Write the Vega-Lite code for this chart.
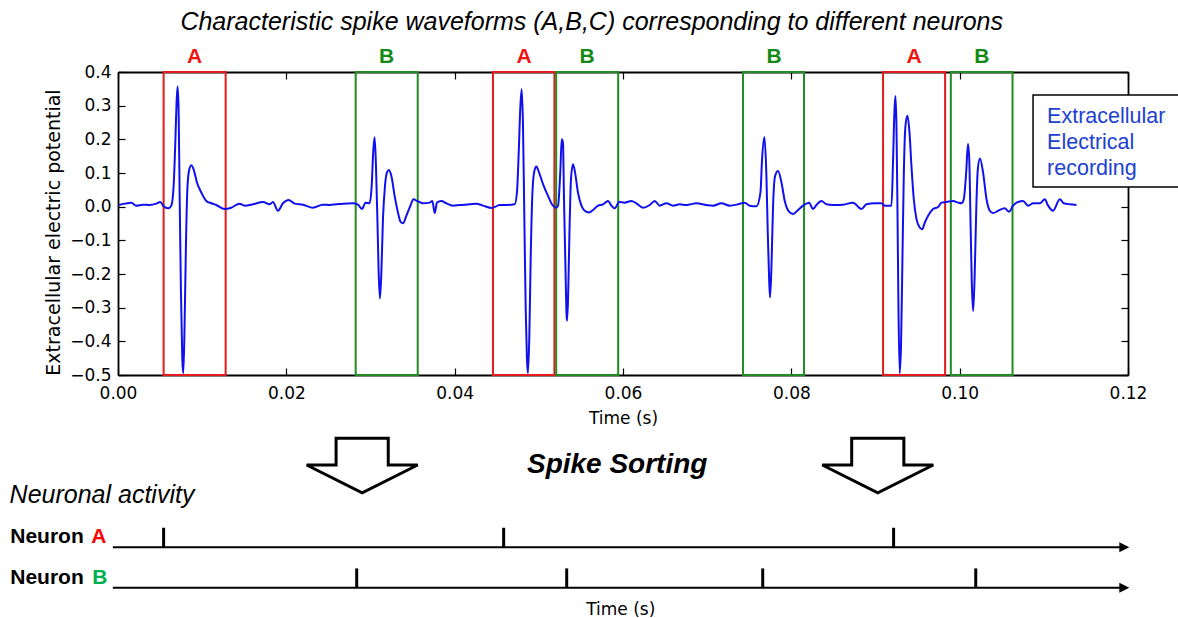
{
  "$schema": "https://vega.github.io/schema/vega-lite/v6.json",
  "width": 1010,
  "height": 303,
  "autosize": "none",
  "padding": {"left": 118, "top": 72, "right": 50, "bottom": 243},
  "background": "white",
  "config": {
    "view": {"stroke": null},
    "axis": {
      "grid": false,
      "domainColor": "black",
      "domainWidth": 1.8,
      "tickColor": "black",
      "tickSize": -7,
      "tickWidth": 1.2,
      "labelFont": "DejaVu Sans",
      "labelFontSize": 17,
      "labelColor": "black",
      "labelFlush": false,
      "labelOverlap": false,
      "titleFont": "DejaVu Sans",
      "titleFontSize": 17,
      "titleFontWeight": "normal",
      "titleColor": "black"
    }
  },
  "data": {"values": [{}]},
  "datasets": {
    "wave": [
      {"t":0.00011,"v":0.005},{"t":0.00078,"v":0.009},{"t":0.00158,"v":0.012},{"t":0.00217,"v":0.003},{"t":0.00296,"v":0.006},{"t":0.00376,"v":0.005},{"t":0.00455,"v":0.009},{"t":0.00503,"v":0.014},{"t":0.00542,"v":0.001},{"t":0.00593,"v":-0.005},{"t":0.00633,"v":0.003},{"t":0.00661,"v":0.062},{"t":0.00681,"v":0.191},{"t":0.00696,"v":0.31},{"t":0.00708,"v":0.357},{"t":0.0072,"v":0.29},{"t":0.00732,"v":0.042},{"t":0.00748,"v":-0.255},{"t":0.00764,"v":-0.453},{"t":0.00776,"v":-0.495},{"t":0.00791,"v":-0.354},{"t":0.00807,"v":-0.116},{"t":0.00824,"v":0.052},{"t":0.00843,"v":0.106},{"t":0.00871,"v":0.123},{"t":0.00898,"v":0.111},{"t":0.00938,"v":0.072},{"t":0.0099,"v":0.042},{"t":0.01049,"v":0.017},{"t":0.01109,"v":0.01},{"t":0.01168,"v":0.005},{"t":0.01267,"v":-0.007},{"t":0.01346,"v":-0.003},{"t":0.01445,"v":0.009},{"t":0.01504,"v":0.003},{"t":0.01603,"v":0.007},{"t":0.01722,"v":0.014},{"t":0.01802,"v":0.007},{"t":0.01841,"v":0.014},{"t":0.019,"v":-0.012},{"t":0.0196,"v":0.01},{"t":0.02027,"v":0.02},{"t":0.02099,"v":0.009},{"t":0.02197,"v":0.006},{"t":0.02316,"v":-0.003},{"t":0.02435,"v":0.006},{"t":0.02515,"v":0.005},{"t":0.02594,"v":0.007},{"t":0.02673,"v":0.009},{"t":0.02792,"v":0.01},{"t":0.02851,"v":0.006},{"t":0.02898,"v":-0.007},{"t":0.02942,"v":0.012},{"t":0.0299,"v":0.01},{"t":0.03014,"v":0.062},{"t":0.03034,"v":0.171},{"t":0.03049,"v":0.206},{"t":0.03065,"v":0.121},{"t":0.03082,"v":-0.037},{"t":0.03097,"v":-0.196},{"t":0.03112,"v":-0.273},{"t":0.03129,"v":-0.196},{"t":0.03148,"v":-0.037},{"t":0.03172,"v":0.062},{"t":0.03196,"v":0.102},{"t":0.03219,"v":0.109},{"t":0.03248,"v":0.091},{"t":0.03287,"v":0.032},{"t":0.03326,"v":-0.017},{"t":0.03358,"v":-0.045},{"t":0.03386,"v":-0.049},{"t":0.03426,"v":-0.027},{"t":0.03465,"v":-0.003},{"t":0.03513,"v":0.022},{"t":0.03552,"v":0.017},{"t":0.03623,"v":0.01},{"t":0.03703,"v":0.012},{"t":0.03735,"v":0.017},{"t":0.03763,"v":-0.019},{"t":0.0379,"v":0.012},{"t":0.03842,"v":0.017},{"t":0.03902,"v":0.01},{"t":0.0398,"v":0.003},{"t":0.0406,"v":0.005},{"t":0.04178,"v":0.007},{"t":0.04258,"v":0.009},{"t":0.04336,"v":0.003},{"t":0.04443,"v":-0.004},{"t":0.04535,"v":0.005},{"t":0.04615,"v":0.005},{"t":0.04713,"v":0.007},{"t":0.0474,"v":0.042},{"t":0.04761,"v":0.161},{"t":0.04781,"v":0.3},{"t":0.04796,"v":0.349},{"t":0.04812,"v":0.24},{"t":0.04828,"v":-0.037},{"t":0.04844,"v":-0.305},{"t":0.04859,"v":-0.453},{"t":0.04871,"v":-0.495},{"t":0.04888,"v":-0.374},{"t":0.04903,"v":-0.156},{"t":0.04924,"v":0.042},{"t":0.04947,"v":0.106},{"t":0.04971,"v":0.119},{"t":0.05002,"v":0.102},{"t":0.0505,"v":0.067},{"t":0.05109,"v":0.032},{"t":0.05168,"v":0.003},{"t":0.052,"v":-0.003},{"t":0.05228,"v":0.003},{"t":0.05256,"v":0.109},{"t":0.05272,"v":0.2},{"t":0.05287,"v":0.19},{"t":0.05299,"v":0.022},{"t":0.05316,"v":-0.176},{"t":0.05328,"v":-0.314},{"t":0.05335,"v":-0.339},{"t":0.05347,"v":-0.275},{"t":0.05363,"v":-0.087},{"t":0.05382,"v":0.082},{"t":0.05406,"v":0.126},{"t":0.0543,"v":0.102},{"t":0.05465,"v":0.042},{"t":0.05506,"v":0.003},{"t":0.05545,"v":-0.012},{"t":0.05596,"v":-0.017},{"t":0.05644,"v":-0.01},{"t":0.05703,"v":0.003},{"t":0.05763,"v":0.007},{"t":0.05822,"v":0.017},{"t":0.05862,"v":0.003},{"t":0.05902,"v":-0.005},{"t":0.05953,"v":0.014},{"t":0.0602,"v":0.012},{"t":0.061,"v":0.017},{"t":0.06159,"v":0.01},{"t":0.06238,"v":-0.003},{"t":0.06318,"v":0.005},{"t":0.06377,"v":0.017},{"t":0.06436,"v":0.003},{"t":0.06516,"v":0.01},{"t":0.06594,"v":0.003},{"t":0.06674,"v":0.007},{"t":0.06754,"v":0.005},{"t":0.06873,"v":0.01},{"t":0.06991,"v":0.005},{"t":0.0707,"v":0.003},{"t":0.0717,"v":0.01},{"t":0.07268,"v":0.003},{"t":0.07367,"v":0.007},{"t":0.07446,"v":0.012},{"t":0.07506,"v":0.003},{"t":0.07585,"v":0.001},{"t":0.07633,"v":0.042},{"t":0.07652,"v":0.14},{"t":0.0768,"v":0.207},{"t":0.07704,"v":0.091},{"t":0.0772,"v":-0.077},{"t":0.07735,"v":-0.206},{"t":0.07747,"v":-0.27},{"t":0.07764,"v":-0.176},{"t":0.07783,"v":0.003},{"t":0.07807,"v":0.091},{"t":0.07842,"v":0.106},{"t":0.07883,"v":0.072},{"t":0.07922,"v":0.017},{"t":0.07973,"v":-0.015},{"t":0.0802,"v":-0.022},{"t":0.0808,"v":-0.01},{"t":0.08139,"v":0.003},{"t":0.08211,"v":0.012},{"t":0.08258,"v":-0.007},{"t":0.08298,"v":0.005},{"t":0.08358,"v":0.017},{"t":0.08417,"v":0.007},{"t":0.08496,"v":0.005},{"t":0.08615,"v":0.006},{"t":0.08734,"v":0.012},{"t":0.08833,"v":-0.007},{"t":0.08893,"v":0.007},{"t":0.08991,"v":0.01},{"t":0.09071,"v":0.01},{"t":0.0911,"v":0.003},{"t":0.0919,"v":0.003},{"t":0.09209,"v":0.141},{"t":0.09226,"v":0.29},{"t":0.09237,"v":0.329},{"t":0.09249,"v":0.24},{"t":0.09261,"v":-0.007},{"t":0.09273,"v":-0.305},{"t":0.09288,"v":-0.495},{"t":0.09304,"v":-0.404},{"t":0.0932,"v":-0.156},{"t":0.09336,"v":0.091},{"t":0.09356,"v":0.24},{"t":0.0938,"v":0.27},{"t":0.09404,"v":0.22},{"t":0.09427,"v":0.121},{"t":0.09455,"v":0.022},{"t":0.09487,"v":-0.037},{"t":0.09526,"v":-0.062},{"t":0.09554,"v":-0.067},{"t":0.09586,"v":-0.047},{"t":0.09625,"v":-0.027},{"t":0.09684,"v":-0.007},{"t":0.09744,"v":-0.001},{"t":0.09784,"v":0.012},{"t":0.09843,"v":0.014},{"t":0.09922,"v":0.017},{"t":0.09981,"v":0.012},{"t":0.10022,"v":0.01},{"t":0.10049,"v":0.022},{"t":0.10077,"v":0.1},{"t":0.10099,"v":0.186},{"t":0.10114,"v":0.14},{"t":0.1013,"v":-0.057},{"t":0.10144,"v":-0.225},{"t":0.1016,"v":-0.31},{"t":0.10178,"v":-0.206},{"t":0.10198,"v":0.0},{"t":0.10215,"v":0.109},{"t":0.10241,"v":0.143},{"t":0.10278,"v":0.102},{"t":0.10319,"v":0.022},{"t":0.10358,"v":-0.012},{"t":0.10397,"v":-0.019},{"t":0.10457,"v":-0.012},{"t":0.10536,"v":-0.005},{"t":0.10587,"v":-0.015},{"t":0.10635,"v":0.003},{"t":0.10694,"v":0.014},{"t":0.10754,"v":0.017},{"t":0.10813,"v":0.003},{"t":0.10873,"v":0.01},{"t":0.10952,"v":0.01},{"t":0.11012,"v":0.022},{"t":0.11051,"v":0.003},{"t":0.1111,"v":-0.012},{"t":0.1119,"v":0.022},{"t":0.11237,"v":0.01},{"t":0.11309,"v":0.007},{"t":0.11388,"v":0.005}
    ],
    "boxes": [
      {"neuron":"A","start":0.00542,"end":0.01279},
      {"neuron":"B","start":0.02824,"end":0.03561},
      {"neuron":"A","start":0.04455,"end":0.05185},
      {"neuron":"B","start":0.05206,"end":0.05943},
      {"neuron":"B","start":0.07426,"end":0.08151},
      {"neuron":"A","start":0.0909,"end":0.09827},
      {"neuron":"B","start":0.09895,"end":0.10628}
    ],
    "spikes": [
      {"neuron":"A","t":0.00542},
      {"neuron":"A","t":0.04582},
      {"neuron":"A","t":0.09215},
      {"neuron":"B","t":0.02836},
      {"neuron":"B","t":0.05331},
      {"neuron":"B","t":0.0766},
      {"neuron":"B","t":0.10191}
    ],
    "sortArrows": [
      {"t":0.02901},
      {"t":0.09027}
    ]
  },
  "resolve": {"axis": {"x": "independent", "y": "independent"}},
  "layer": [
    {
      "data": {"name": "boxes"},
      "mark": {"type": "rect", "fill": "transparent", "strokeWidth": 2},
      "encoding": {
        "x": {"field": "start", "type": "quantitative", "scale": {"domain": [0, 0.12], "nice": false, "zero": false},
              "axis": {"orient": "top", "labels": false, "title": null, "values": [0, 0.02, 0.04, 0.06, 0.08, 0.1, 0.12]}},
        "x2": {"field": "end"},
        "y": {"datum": -0.5, "type": "quantitative", "scale": {"domain": [-0.5, 0.4], "nice": false, "zero": false},
              "axis": {"orient": "right", "labels": false, "title": null, "values": [-0.5, -0.4, -0.3, -0.2, -0.1, 0, 0.1, 0.2, 0.3, 0.4]}},
        "y2": {"datum": 0.4},
        "stroke": {"field": "neuron", "type": "nominal", "scale": {"domain": ["A", "B"], "range": ["#e41a1c", "#228b22"]}, "legend": null}
      }
    },
    {
      "data": {"name": "wave"},
      "mark": {"type": "line", "color": "#1010ee", "strokeWidth": 2, "interpolate": "monotone"},
      "encoding": {
        "x": {"field": "t", "type": "quantitative", "scale": {"domain": [0, 0.12], "nice": false, "zero": false},
              "axis": {"orient": "bottom", "title": "Time (s)", "values": [0, 0.02, 0.04, 0.06, 0.08, 0.1, 0.12], "format": ".2f", "labelPadding": 17, "titlePadding": 9}},
        "y": {"field": "v", "type": "quantitative", "scale": {"domain": [-0.5, 0.4], "nice": false, "zero": false},
              "axis": {"orient": "left", "title": "Extracellular electric potential", "values": [-0.5, -0.4, -0.3, -0.2, -0.1, 0, 0.1, 0.2, 0.3, 0.4], "format": ".1f", "labelPadding": 14, "titleFontSize": 19, "titleX": -65, "titleY": 160, "titleAngle": 270, "titleAlign": "center", "titleBaseline": "middle"}}
      }
    },
    {
      "data": {"name": "boxes"},
      "mark": {"type": "text", "font": "Liberation Sans", "fontSize": 21, "fontWeight": "bold", "align": "center", "baseline": "alphabetic", "dx": 31},
      "encoding": {
        "x": {"field": "start", "type": "quantitative", "scale": {"domain": [0, 0.12], "nice": false, "zero": false}, "axis": null},
        "y": {"datum": 0.4261, "type": "quantitative", "scale": {"domain": [-0.5, 0.4], "nice": false, "zero": false}, "axis": null},
        "text": {"field": "neuron"},
        "color": {"field": "neuron", "type": "nominal", "scale": {"domain": ["A", "B"], "range": ["#f01515", "#168a16"]}, "legend": null}
      }
    },
    {
      "mark": {"type": "rect", "fill": "white", "stroke": "black", "strokeWidth": 1.5},
      "encoding": {
        "x": {"datum": 0.10872, "type": "quantitative", "scale": {"domain": [0, 0.12], "nice": false, "zero": false}, "axis": null},
        "x2": {"datum": 0.1265},
        "y": {"datum": 0.0582, "type": "quantitative", "scale": {"domain": [-0.5, 0.4], "nice": false, "zero": false}, "axis": null},
        "y2": {"datum": 0.332}
      }
    },
    {
      "mark": {"type": "text", "text": "Extracellular", "font": "Liberation Sans", "fontSize": 21.5, "color": "#2040d0", "align": "left", "baseline": "alphabetic"},
      "encoding": {
        "x": {"datum": 0.11039, "type": "quantitative", "scale": {"domain": [0, 0.12], "nice": false, "zero": false}, "axis": null},
        "y": {"datum": 0.2481, "type": "quantitative", "scale": {"domain": [-0.5, 0.4], "nice": false, "zero": false}, "axis": null}
      }
    },
    {
      "mark": {"type": "text", "text": "Electrical", "font": "Liberation Sans", "fontSize": 21.5, "color": "#2040d0", "align": "left", "baseline": "alphabetic"},
      "encoding": {
        "x": {"datum": 0.11039, "type": "quantitative", "scale": {"domain": [0, 0.12], "nice": false, "zero": false}, "axis": null},
        "y": {"datum": 0.1709, "type": "quantitative", "scale": {"domain": [-0.5, 0.4], "nice": false, "zero": false}, "axis": null}
      }
    },
    {
      "mark": {"type": "text", "text": "recording", "font": "Liberation Sans", "fontSize": 21.5, "color": "#2040d0", "align": "left", "baseline": "alphabetic"},
      "encoding": {
        "x": {"datum": 0.11039, "type": "quantitative", "scale": {"domain": [0, 0.12], "nice": false, "zero": false}, "axis": null},
        "y": {"datum": 0.0947, "type": "quantitative", "scale": {"domain": [-0.5, 0.4], "nice": false, "zero": false}, "axis": null}
      }
    },
    {
      "mark": {"type": "text", "text": "Characteristic spike waveforms (A,B,C) corresponding to different neurons", "font": "Liberation Sans", "fontSize": 25, "fontStyle": "italic", "color": "black", "align": "center", "baseline": "alphabetic"},
      "encoding": {
        "x": {"datum": 0.05628, "type": "quantitative", "scale": {"domain": [0, 0.12], "nice": false, "zero": false}, "axis": null},
        "y": {"datum": 0.5249, "type": "quantitative", "scale": {"domain": [-0.5, 0.4], "nice": false, "zero": false}, "axis": null}
      }
    },
    {
      "data": {"name": "sortArrows"},
      "mark": {"type": "point", "shape": "M-0.47,-0.49L0.47,-0.49L0.47,-0.01L1,-0.01L0,0.49L-1,-0.01L-0.47,-0.01Z", "size": 12321, "filled": true, "fill": "white", "stroke": "black", "strokeWidth": 3, "opacity": 1},
      "encoding": {
        "x": {"field": "t", "type": "quantitative", "scale": {"domain": [0, 0.12], "nice": false, "zero": false}, "axis": null},
        "y": {"datum": -0.7689, "type": "quantitative", "scale": {"domain": [-0.5, 0.4], "nice": false, "zero": false}, "axis": null}
      }
    },
    {
      "mark": {"type": "text", "text": "Spike Sorting", "font": "Liberation Sans", "fontSize": 28, "fontStyle": "italic", "fontWeight": "bold", "color": "black", "align": "center", "baseline": "alphabetic"},
      "encoding": {
        "x": {"datum": 0.05931, "type": "quantitative", "scale": {"domain": [0, 0.12], "nice": false, "zero": false}, "axis": null},
        "y": {"datum": -0.7905, "type": "quantitative", "scale": {"domain": [-0.5, 0.4], "nice": false, "zero": false}, "axis": null}
      }
    },
    {
      "mark": {"type": "text", "text": "Neuronal activity", "font": "Liberation Sans", "fontSize": 25, "fontStyle": "italic", "color": "black", "align": "left", "baseline": "alphabetic"},
      "encoding": {
        "x": {"datum": -0.01288, "type": "quantitative", "scale": {"domain": [0, 0.12], "nice": false, "zero": false}, "axis": null},
        "y": {"datum": -0.8816, "type": "quantitative", "scale": {"domain": [-0.5, 0.4], "nice": false, "zero": false}, "axis": null}
      }
    },
    {
      "mark": {"type": "text", "text": "Neuron", "font": "Liberation Sans", "fontSize": 21, "fontWeight": "bold", "color": "black", "align": "left", "baseline": "alphabetic"},
      "encoding": {
        "x": {"datum": -0.0128, "type": "quantitative", "scale": {"domain": [0, 0.12], "nice": false, "zero": false}, "axis": null},
        "y": {"datum": -1.0003, "type": "quantitative", "scale": {"domain": [-0.5, 0.4], "nice": false, "zero": false}, "axis": null}
      }
    },
    {
      "mark": {"type": "text", "text": "A", "font": "Liberation Sans", "fontSize": 21, "fontWeight": "bold", "color": "#ff0000", "align": "left", "baseline": "alphabetic"},
      "encoding": {
        "x": {"datum": -0.00318, "type": "quantitative", "scale": {"domain": [0, 0.12], "nice": false, "zero": false}, "axis": null},
        "y": {"datum": -1.0003, "type": "quantitative", "scale": {"domain": [-0.5, 0.4], "nice": false, "zero": false}, "axis": null}
      }
    },
    {
      "mark": {"type": "text", "text": "Neuron", "font": "Liberation Sans", "fontSize": 21, "fontWeight": "bold", "color": "black", "align": "left", "baseline": "alphabetic"},
      "encoding": {
        "x": {"datum": -0.0128, "type": "quantitative", "scale": {"domain": [0, 0.12], "nice": false, "zero": false}, "axis": null},
        "y": {"datum": -1.122, "type": "quantitative", "scale": {"domain": [-0.5, 0.4], "nice": false, "zero": false}, "axis": null}
      }
    },
    {
      "mark": {"type": "text", "text": "B", "font": "Liberation Sans", "fontSize": 21, "fontWeight": "bold", "color": "#00b050", "align": "left", "baseline": "alphabetic"},
      "encoding": {
        "x": {"datum": -0.00306, "type": "quantitative", "scale": {"domain": [0, 0.12], "nice": false, "zero": false}, "axis": null},
        "y": {"datum": -1.122, "type": "quantitative", "scale": {"domain": [-0.5, 0.4], "nice": false, "zero": false}, "axis": null}
      }
    },
    {
      "mark": {"type": "rule", "color": "black", "strokeWidth": 2},
      "encoding": {
        "x": {"datum": -0.00061, "type": "quantitative", "scale": {"domain": [0, 0.12], "nice": false, "zero": false}, "axis": null},
        "x2": {"datum": 0.11927},
        "y": {"datum": -1.0113, "type": "quantitative", "scale": {"domain": [-0.5, 0.4], "nice": false, "zero": false}, "axis": null}
      }
    },
    {
      "mark": {"type": "rule", "color": "black", "strokeWidth": 2},
      "encoding": {
        "x": {"datum": -0.00061, "type": "quantitative", "scale": {"domain": [0, 0.12], "nice": false, "zero": false}, "axis": null},
        "x2": {"datum": 0.11927},
        "y": {"datum": -1.1318, "type": "quantitative", "scale": {"domain": [-0.5, 0.4], "nice": false, "zero": false}, "axis": null}
      }
    },
    {
      "mark": {"type": "point", "shape": "M-1,-1L1,0L-1,1Z", "size": 100, "filled": true, "color": "black", "opacity": 1},
      "encoding": {
        "x": {"datum": 0.11956, "type": "quantitative", "scale": {"domain": [0, 0.12], "nice": false, "zero": false}, "axis": null},
        "y": {"datum": -1.0113, "type": "quantitative", "scale": {"domain": [-0.5, 0.4], "nice": false, "zero": false}, "axis": null}
      }
    },
    {
      "mark": {"type": "point", "shape": "M-1,-1L1,0L-1,1Z", "size": 100, "filled": true, "color": "black", "opacity": 1},
      "encoding": {
        "x": {"datum": 0.11956, "type": "quantitative", "scale": {"domain": [0, 0.12], "nice": false, "zero": false}, "axis": null},
        "y": {"datum": -1.1318, "type": "quantitative", "scale": {"domain": [-0.5, 0.4], "nice": false, "zero": false}, "axis": null}
      }
    },
    {
      "data": {"name": "spikes"},
      "transform": [{"filter": "datum.neuron === 'A'"}],
      "mark": {"type": "rule", "color": "black", "strokeWidth": 3},
      "encoding": {
        "x": {"field": "t", "type": "quantitative", "scale": {"domain": [0, 0.12], "nice": false, "zero": false}, "axis": null},
        "y": {"datum": -1.0113, "type": "quantitative", "scale": {"domain": [-0.5, 0.4], "nice": false, "zero": false}, "axis": null},
        "y2": {"datum": -0.9537}
      }
    },
    {
      "data": {"name": "spikes"},
      "transform": [{"filter": "datum.neuron === 'B'"}],
      "mark": {"type": "rule", "color": "black", "strokeWidth": 3},
      "encoding": {
        "x": {"field": "t", "type": "quantitative", "scale": {"domain": [0, 0.12], "nice": false, "zero": false}, "axis": null},
        "y": {"datum": -1.1318, "type": "quantitative", "scale": {"domain": [-0.5, 0.4], "nice": false, "zero": false}, "axis": null},
        "y2": {"datum": -1.0745}
      }
    },
    {
      "mark": {"type": "text", "text": "Time (s)", "font": "DejaVu Sans", "fontSize": 17, "color": "black", "align": "center", "baseline": "alphabetic"},
      "encoding": {
        "x": {"datum": 0.05973, "type": "quantitative", "scale": {"domain": [0, 0.12], "nice": false, "zero": false}, "axis": null},
        "y": {"datum": -1.214, "type": "quantitative", "scale": {"domain": [-0.5, 0.4], "nice": false, "zero": false}, "axis": null}
      }
    }
  ]
}
